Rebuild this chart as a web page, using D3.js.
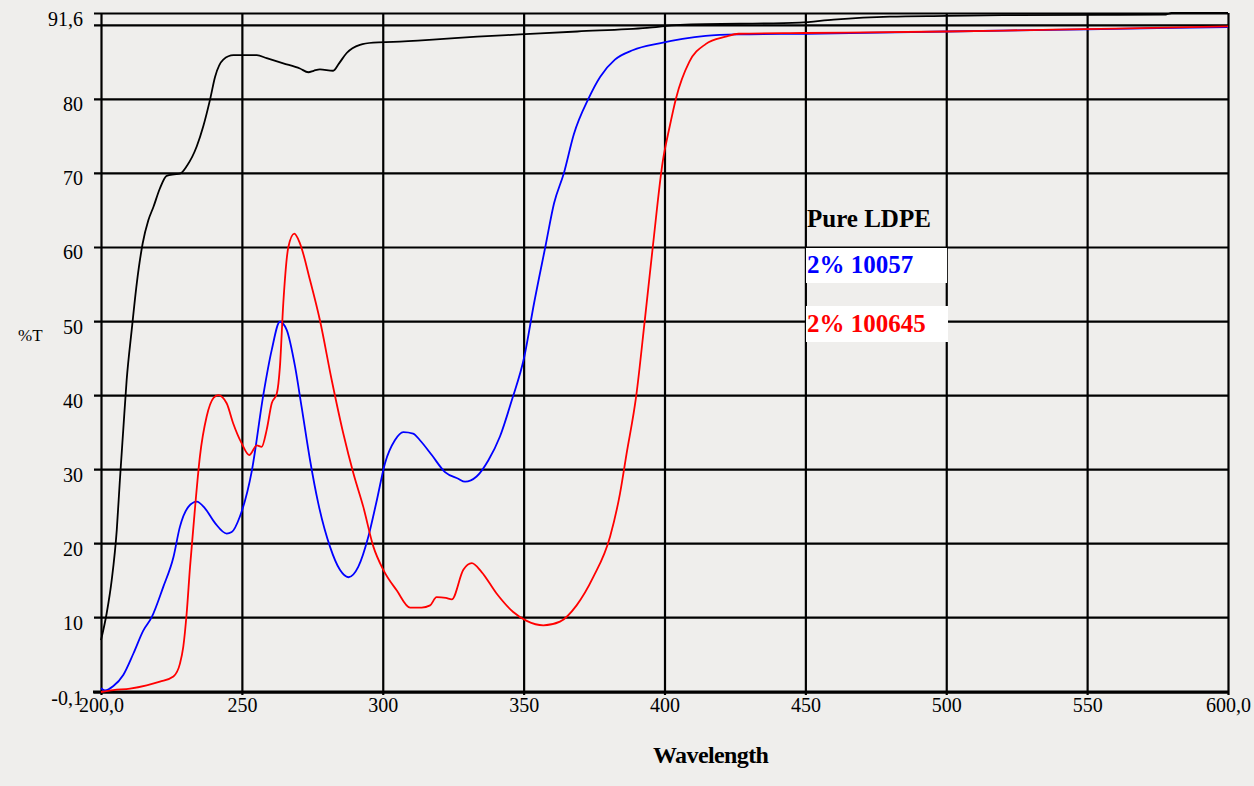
<!DOCTYPE html>
<html>
<head>
<meta charset="utf-8">
<script src="https://cdn.jsdelivr.net/npm/d3@7"></script>
<style>
  html, body { margin: 0; padding: 0; background: #efeeec; }
  svg { display: block; }
</style>
</head>
<body>
<div id="chart"></div>
<script>
// Tick values
var xTicks = [200, 250, 300, 350, 400, 450, 500, 550, 600];
var yTicks = [-0.1, 10, 20, 30, 40, 50, 60, 70, 80, 90, 91.6];

// Pure LDPE (black)
var ldpeWl = [200, 202, 203.8, 205.6, 206.7, 207.9, 209.1, 210.9, 212.7, 214.8, 216.8, 218.6, 220.9, 223.3, 226, 228,
  230.4, 234, 236.3, 238.7, 240.5, 243.4, 247, 255.3, 258.8, 264.7, 270.6, 273.6, 275.5, 277.7, 282.4, 284.5,
  287.2, 291.9, 296.6, 303.7, 317.8, 333.5, 348.7, 369, 393.8, 405.5, 448, 460, 480, 500, 520, 555, 578, 580, 600];
var ldpeT = [6.9, 10.5, 15, 21.8, 28.5, 35.3, 42, 48.8, 55.1, 60.5, 63.6, 65.4, 67.9, 69.6, 69.8, 69.9,
  70.9, 73.6, 76.3, 79.9, 83.0, 85.3, 85.9, 85.9, 85.5, 84.8, 84.1, 83.6, 83.8, 84.0, 83.8, 84.8,
  86.2, 87.3, 87.6, 87.7, 88.0, 88.4, 88.7, 89.1, 89.6, 90.0, 90.3, 90.7, 91.1, 91.2, 91.3, 91.35, 91.4, 91.6, 91.6];

// 2% 10057 (blue)
var blueWl = [200, 201.4, 204.4, 207.9, 211.5, 215, 218, 222.1, 225.7, 228, 231, 234, 236.9, 240.5, 244.6, 246.4,
  249.3, 253.5, 257.6, 260.6, 263.5, 265.9, 268.9, 271.2, 274.2, 277.1, 281.3, 284.8, 287.8, 291.3, 294.9,
  297.9, 300.8, 304.3, 307.3, 310.8, 313.2, 317.4, 322.1, 326.8, 329.2, 333.3, 337.5, 341.6, 345.8, 350.2,
  353.7, 357.8, 360.8, 364.3, 367.8, 373.1, 377.2, 382.4, 388.9, 398.2, 406.4, 414.6, 426.3, 450, 500, 550, 600];
var blueT = [0.4, 0.1, 0.7, 2.2, 5.1, 8.2, 10, 14.1, 18.1, 22.2, 24.9, 25.6, 24.7, 22.7, 21.3, 21.5,
  23.6, 29.7, 40.0, 46.1, 49.9, 48.8, 43.8, 38.4, 31.2, 25.4, 19.5, 16.4, 15.4, 16.8, 20.9,
  25.8, 30.8, 33.9, 35.0, 34.8, 33.9, 31.9, 29.6, 28.7, 28.3, 29.0, 31.2, 34.4, 39.3, 45.1,
  52.4, 60.2, 65.9, 70.0, 75.2, 80.1, 83.0, 85.3, 86.6, 87.5, 88.1, 88.5, 88.7, 88.8, 89.1, 89.4, 89.7];

// 2% 100645 (red)
var redWl = [200, 204.4, 210.3, 216.2, 220.9, 225.7, 228, 229.2, 230.4, 231.6, 233.4, 235.1, 237.5, 239.9, 241.6,
  244.6, 246.9, 249.9, 252.6, 255.3, 257, 258.8, 260.6, 262.4, 263.5, 264.7, 266.5, 268.6, 270.6, 274.2,
  277.7, 281.9, 286, 289.6, 293.1, 296.7, 300.2, 305, 309.7, 313.8, 316.8, 319.1, 322.4, 324.5, 328.6,
  331.6, 335.1, 340.4, 346.3, 351.1, 357, 362.9, 368.8, 374.7, 380.7, 384.2, 386.5, 390, 393, 395.9,
  399.4, 401.8, 404.1, 408.8, 414.6, 421.7, 426.3, 450, 500, 530, 560, 600];
var redT = [-0.1, 0.15, 0.36, 0.8, 1.3, 2.0, 3.7, 6.0, 10.5, 16.8, 24.9, 31.7, 37.1, 39.6, 40.0,
  38.9, 36.2, 33.5, 31.9, 33.2, 33.0, 35.3, 38.9, 40.2, 43.8, 52.4, 60.0, 61.8, 60.5, 55.5,
  50.1, 42.0, 34.8, 29.4, 24.9, 19.5, 16.4, 13.6, 11.3, 11.3, 11.6, 12.7, 12.6, 12.4, 16.4,
  17.3, 16.1, 13.2, 10.7, 9.5, 8.9, 9.4, 11.6, 15.4, 20.9, 26.7, 32, 40.0, 50.1, 60.2,
  71.6, 76.2, 80.1, 85.0, 87.4, 88.4, 88.8, 88.9, 89.1, 89.3, 89.5, 89.8];

var W = 1254, H = 786;
var serif = "'Liberation Serif', 'Times New Roman', serif";
var svg = d3.select("#chart").append("svg")
  .attr("width", W).attr("height", H)
  .style("font-family", serif);

svg.append("rect").attr("width", W).attr("height", H).attr("fill", "#efeeec");

var x = d3.scaleLinear().domain([200, 600]).range([101, 1228]);
var y = d3.scaleLinear().domain([-0.1, 91.6]).range([692, 13]);

// Y axis with horizontal grid
var yAxis = svg.append("g")
  .attr("transform", "translate(101,0)")
  .call(d3.axisLeft(y)
    .tickValues(yTicks)
    .tickSizeInner(-(x(600) - x(200)))
    .tickSizeOuter(0)
    .tickPadding(18)
    .tickFormat(function(d) {
      if (d === 90) return "";
      return String(d).replace(".", ",");
    }))
  .attr("font-family", serif)
  .attr("font-size", 20);
yAxis.select(".domain").remove();
yAxis.selectAll(".tick line")
  .attr("x1", -7)
  .attr("stroke", "#000")
  .attr("stroke-width", 2.2);
yAxis.selectAll(".tick text")
  .attr("dy", 12)
  .attr("fill", "#000");

// X axis with vertical grid
var xAxis = svg.append("g")
  .attr("transform", "translate(0,692)")
  .call(d3.axisBottom(x)
    .tickValues(xTicks)
    .tickSizeInner(-(y(-0.1) - y(91.6)))
    .tickSizeOuter(0)
    .tickPadding(6)
    .tickFormat(function(d) {
      return (d === 200 || d === 600) ? d + ",0" : d;
    }))
  .attr("font-family", serif)
  .attr("font-size", 20);
xAxis.select(".domain").remove();
xAxis.selectAll(".tick line")
  .attr("y1", 3)
  .attr("stroke", "#000")
  .attr("stroke-width", 2.2);
xAxis.selectAll(".tick text")
  .attr("fill", "#000");

// bottom axis line (heavier)
svg.append("line")
  .attr("x1", 93).attr("x2", x(600))
  .attr("y1", y(-0.1)).attr("y2", y(-0.1))
  .attr("stroke", "#000").attr("stroke-width", 3);

// Series
var line = d3.line()
  .x(function(d) { return x(d[0]); })
  .y(function(d) { return y(d[1]); })
  .curve(d3.curveMonotoneX);

var series = [
  {wl: ldpeWl, t: ldpeT, color: "#000000"},
  {wl: blueWl, t: blueT, color: "#0000ff"},
  {wl: redWl, t: redT, color: "#ff0000"}
];
series.forEach(function(s) {
  svg.append("path")
    .datum(d3.zip(s.wl, s.t))
    .attr("fill", "none")
    .attr("stroke", s.color)
    .attr("stroke-width", 1.8)
    .attr("d", line);
});

// Legend
svg.append("rect").attr("x", 806).attr("y", 248).attr("width", 141).attr("height", 35).attr("fill", "#fff");
svg.append("rect").attr("x", 806).attr("y", 306).attr("width", 142).attr("height", 36).attr("fill", "#fff");

svg.append("text").attr("x", 807).attr("y", 227)
  .style("font-size", "25px").style("font-weight", "bold").attr("fill", "#000")
  .text("Pure LDPE");
svg.append("text").attr("x", 807).attr("y", 273)
  .style("font-size", "25px").style("font-weight", "bold").attr("fill", "#0000ff")
  .text("2% 10057");
svg.append("text").attr("x", 807).attr("y", 332)
  .style("font-size", "25px").style("font-weight", "bold").attr("fill", "#ff0000")
  .text("2% 100645");

// Axis titles
svg.append("text").attr("x", 18).attr("y", 341)
  .style("font-size", "17px").attr("fill", "#000")
  .text("%T");
svg.append("text").attr("x", 653).attr("y", 763)
  .style("font-size", "24px").style("font-weight", "bold").style("letter-spacing", "-0.6px")
  .attr("fill", "#000")
  .text("Wavelength");
svg.append("text").attr("x", 653).attr("y", 799)
  .style("font-size", "24px").style("font-weight", "bold")
  .attr("fill", "#000")
  .text("s");
</script>
</body>
</html>
